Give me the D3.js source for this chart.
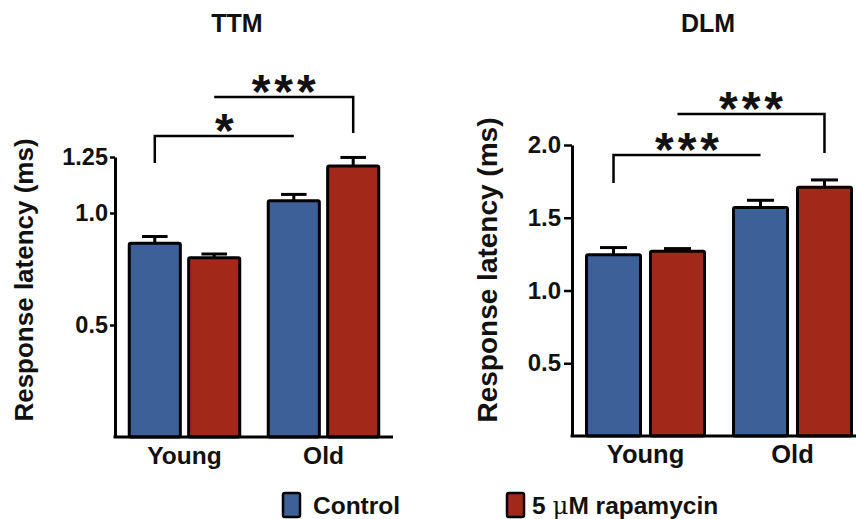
<!DOCTYPE html>
<html>
<head>
<meta charset="utf-8">
<script src="https://cdn.jsdelivr.net/npm/d3@7"></script>
<style>
  body { margin: 0; background: #fff; }
  svg { display: block; font-family: "Liberation Sans", Arial, sans-serif; font-weight: bold; }
</style>
</head>
<body>
<svg id="chart" width="856" height="519"></svg>
<script>
// datos
var groups = ["Young", "Old"];
var series = ["Control", "5 \u03bcM rapamycin"];

var ttmControl = [0.865, 1.055];
var ttmControlErr = [0.03, 0.028];
var ttmRapa = [0.80, 1.21];
var ttmRapaErr = [0.017, 0.038];
var ttmTicks = [0.5, 1.0, 1.25];
var ttmTickLabels = ["0.5", "1.0", "1.25"];

var dlmControl = [1.245, 1.57];
var dlmControlErr = [0.05, 0.05];
var dlmRapa = [1.27, 1.71];
var dlmRapaErr = [0.018, 0.05];
var dlmTicks = [0.5, 1.0, 1.5, 2.0];
var dlmTickLabels = ["0.5", "1.0", "1.5", "2.0"];

// corchetes de significancia: [grupo, serie] -> [grupo, serie]
var ttmSig = [
  {from: [0, 0], to: [1, 0], level: 1.344, leftEnd: 1.223, rightEnd: null, label: "*"},
  {from: [0, 1], to: [1, 1], level: 1.518, leftEnd: null, rightEnd: 1.357, label: "***"}
];
var dlmSig = [
  {from: [0, 0], to: [1, 0], level: 1.931, leftEnd: 1.739, rightEnd: null, label: "***"},
  {from: [0, 1], to: [1, 1], level: 2.213, leftEnd: null, rightEnd: 1.945, label: "***"}
];

var colors = ["#3d6098", "#a2291a"];
var svg = d3.select("#chart");

function drawPanel(cfg) {
  var g = svg.append("g");

  var y = d3.scaleLinear().domain([0, cfg.yMax]).range([cfg.bottom, cfg.top]);
  var x0 = d3.scaleBand().domain(groups).range([cfg.left, cfg.right]).padding(0);
  var x1 = d3.scaleBand().domain(series).range([0, x0.bandwidth()])
    .paddingInner(cfg.pi).paddingOuter(cfg.po);

  var rows = [];
  groups.forEach(function(gr, i) {
    rows.push({g: gr, s: series[0], v: cfg.control[i], e: cfg.controlErr[i], c: colors[0]});
    rows.push({g: gr, s: series[1], v: cfg.rapa[i], e: cfg.rapaErr[i], c: colors[1]});
  });

  // barras de error (solo hacia arriba)
  var eb = g.selectAll(".err").data(rows).enter().append("g")
    .attr("stroke", "#000").attr("stroke-width", 3);
  eb.append("line")
    .attr("x1", function(d) { return x0(d.g) + x1(d.s) + x1.bandwidth() / 2; })
    .attr("x2", function(d) { return x0(d.g) + x1(d.s) + x1.bandwidth() / 2; })
    .attr("y1", function(d) { return y(d.v); })
    .attr("y2", function(d) { return y(d.v + d.e); });
  eb.append("line")
    .attr("x1", function(d) { return x0(d.g) + x1(d.s) + x1.bandwidth() * 0.25; })
    .attr("x2", function(d) { return x0(d.g) + x1(d.s) + x1.bandwidth() * 0.75; })
    .attr("y1", function(d) { return y(d.v + d.e); })
    .attr("y2", function(d) { return y(d.v + d.e); });

  g.selectAll(".bar").data(rows).enter().append("rect")
    .attr("x", function(d) { return x0(d.g) + x1(d.s); })
    .attr("y", function(d) { return y(d.v); })
    .attr("width", x1.bandwidth())
    .attr("height", function(d) { return y(0) - y(d.v); })
    .attr("fill", function(d) { return d.c; })
    .attr("stroke", "#000").attr("stroke-width", 3)
    .attr("rx", 1.5);

  // ejes
  var ay = g.append("g").attr("transform", "translate(" + cfg.left + ",0)")
    .call(d3.axisLeft(y).tickValues(cfg.ticks)
      .tickFormat(function(d, i) { return cfg.tickLabels[i]; })
      .tickSize(cfg.tickLen).tickSizeOuter(0).tickPadding(cfg.tickPad));
  ay.select(".domain").attr("stroke-width", 3);
  ay.selectAll(".tick line").attr("stroke-width", 2.5);
  ay.selectAll(".tick text").attr("font-size", cfg.tickFont).attr("font-weight", "bold")
    .attr("font-family", "Liberation Sans, Arial, sans-serif").attr("fill", "#111");

  var ax = g.append("g").attr("transform", "translate(0," + cfg.bottom + ")")
    .call(d3.axisBottom(x0).tickSize(0).tickSizeOuter(0).tickPadding(cfg.xPad));
  ax.select(".domain").attr("stroke-width", 3).attr("d", "M" + (cfg.left - 1.5) + ",0H" + cfg.right);
  ax.selectAll(".tick text").attr("font-size", cfg.xFont).attr("font-weight", "bold")
    .attr("font-family", "Liberation Sans, Arial, sans-serif").attr("fill", "#111");

  g.append("text").attr("x", cfg.titleX).attr("y", 32).attr("text-anchor", "middle")
    .attr("font-size", 25).attr("fill", "#111").text(cfg.title);

  g.append("text")
    .attr("transform", "translate(" + cfg.labelX + "," + cfg.labelY + ") rotate(-90)")
    .attr("text-anchor", "middle").attr("font-size", cfg.labelFont).attr("fill", "#111")
    .text("Response latency (ms)");

  // significancia
  function cx(p) { return x0(groups[p[0]]) + x1(series[p[1]]) + x1.bandwidth() / 2; }
  cfg.sig.forEach(function(s) {
    var xa = cx(s.from), xb = cx(s.to);
    var p = d3.path();
    if (s.leftEnd !== null) { p.moveTo(xa, y(s.leftEnd)); p.lineTo(xa, y(s.level)); }
    else p.moveTo(xa, y(s.level));
    p.lineTo(xb, y(s.level));
    if (s.rightEnd !== null) p.lineTo(xb, y(s.rightEnd));
    g.append("path").attr("d", p.toString()).attr("fill", "none")
      .attr("stroke", "#000").attr("stroke-width", 2.5);
    g.append("text").attr("x", (xa + xb) / 2 + 2).attr("y", y(s.level) + 11)
      .attr("text-anchor", "middle").attr("font-size", 48).attr("letter-spacing", 4)
      .attr("fill", "#111").text(s.label);
  });
}

drawPanel({
  title: "TTM", titleX: 237, yMax: 1.25, top: 157, bottom: 437, left: 115, right: 393,
  pi: 0.14, po: 0.24, control: ttmControl, controlErr: ttmControlErr, rapa: ttmRapa, rapaErr: ttmRapaErr,
  ticks: ttmTicks, tickLabels: ttmTickLabels, tickLen: 5, tickPad: 2, tickFont: 23.5,
  xPad: 10, xFont: 24.5, labelX: 33, labelY: 280, labelFont: 26, sig: ttmSig
});

drawPanel({
  title: "DLM", titleX: 708, yMax: 2.0, top: 145, bottom: 436, left: 572, right: 866,
  pi: 0.156, po: 0.227, control: dlmControl, controlErr: dlmControlErr, rapa: dlmRapa, rapaErr: dlmRapaErr,
  ticks: dlmTicks, tickLabels: dlmTickLabels, tickLen: 8, tickPad: 3, tickFont: 24,
  xPad: 9, xFont: 25.5, labelX: 497, labelY: 270, labelFont: 28, sig: dlmSig
});

// leyenda
var legX = [283, 507];
var leg = svg.selectAll(".leg").data(series).enter().append("g")
  .attr("transform", function(d, i) { return "translate(" + legX[i] + ",493)"; });
leg.append("rect").attr("width", 17).attr("height", 24).attr("rx", 2)
  .attr("fill", function(d, i) { return colors[i]; })
  .attr("stroke", "#000").attr("stroke-width", 2.5);
leg.append("text").attr("x", function(d, i) { return i === 0 ? 30 : 25; }).attr("y", 21)
  .attr("font-size", 24.5).attr("fill", "#111")
  .each(function(d, i) {
    var t = d3.select(this);
    if (i === 0) { t.text(d); return; }
    t.append("tspan").text("5 ");
    t.append("tspan").attr("font-family", "DejaVu Serif, serif").attr("font-weight", "normal").text("\u03bc");
    t.append("tspan").text("M rapamycin");
  });
</script>
</body>
</html>
